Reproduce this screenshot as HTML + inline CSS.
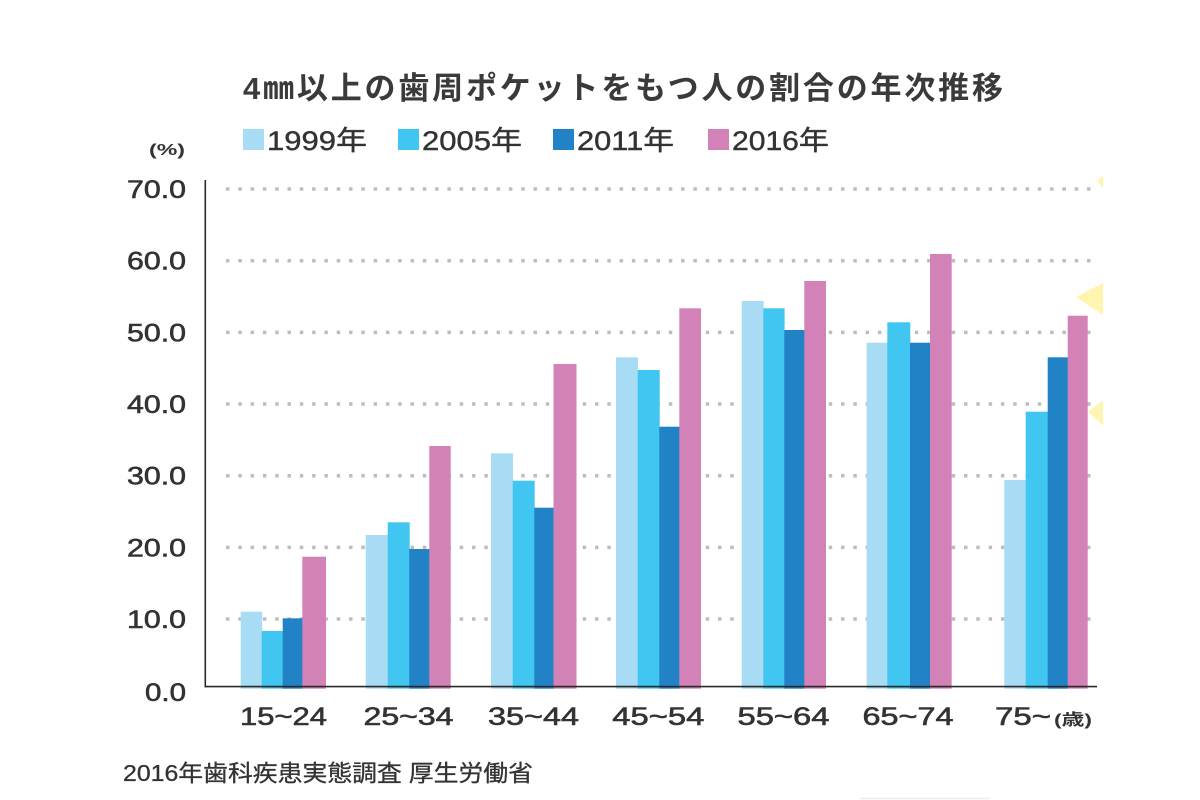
<!DOCTYPE html>
<html>
<head>
<meta charset="utf-8">
<style>
  html, body { margin: 0; padding: 0; background: #ffffff; }
  body { width: 1200px; height: 800px; overflow: hidden; }
  svg { display: block; }
  .lat { font-family: "Liberation Sans", "Noto Sans CJK JP", sans-serif; }
  .cjk { font-family: "Liberation Sans", "Noto Sans CJK JP", sans-serif; }
</style>
</head>
<body>
<svg width="1200" height="800" viewBox="0 0 1200 800" xmlns="http://www.w3.org/2000/svg">
  <rect x="0" y="0" width="1200" height="800" fill="#ffffff"/>

  <!-- yellow decorations -->
  <g fill="#fff4b0">
    <polygon points="1097,181 1103,175 1103,188"/>
    <polygon points="1076,297 1103,283 1103,315"/>
    <polygon points="1088,412 1103,400 1103,425"/>
  </g>

  <!-- title -->
  <text class="cjk" x="243" y="99" font-size="31" font-weight="bold" fill="#3a3a3a" textLength="760" lengthAdjust="spacing">4㎜以上の歯周ポケットをもつ人の割合の年次推移</text>

  <!-- legend -->
  <g class="lat" font-size="27" fill="#333" stroke="#333" stroke-width="0.4">
    <text x="267" y="150" textLength="100" lengthAdjust="spacingAndGlyphs">1999年</text>
    <text x="422" y="150" textLength="100" lengthAdjust="spacingAndGlyphs">2005年</text>
    <text x="577" y="150" textLength="97" lengthAdjust="spacingAndGlyphs">2011年</text>
    <text x="732" y="150" textLength="97" lengthAdjust="spacingAndGlyphs">2016年</text>
  </g>
  <rect x="243" y="129" width="21" height="21" fill="#a8dcf5"/>
  <rect x="398" y="129" width="21" height="21" fill="#41c6f1"/>
  <rect x="553" y="129" width="21" height="21" fill="#2282c6"/>
  <rect x="708" y="129" width="21" height="21" fill="#d282b6"/>

  <!-- (%) -->
  <text class="lat" x="149" y="155" font-size="16" font-weight="bold" fill="#333" textLength="36" lengthAdjust="spacingAndGlyphs">(%)</text>

  <!-- gridlines -->
  <g stroke="#bdbdbd" stroke-width="3.5" stroke-dasharray="3.5 8.8">
    <line x1="226" y1="189" x2="1094" y2="189"/>
    <line x1="226" y1="260.7" x2="1094" y2="260.7"/>
    <line x1="226" y1="332.4" x2="1094" y2="332.4"/>
    <line x1="226" y1="404" x2="1094" y2="404"/>
    <line x1="226" y1="475.7" x2="1094" y2="475.7"/>
    <line x1="226" y1="547.4" x2="1094" y2="547.4"/>
    <line x1="226" y1="619" x2="1094" y2="619"/>
  </g>

  <!-- y tick labels -->
  <g class="lat" font-size="25" fill="#333" stroke="#333" stroke-width="0.6" text-anchor="end">
    <text x="186" y="198" textLength="59" lengthAdjust="spacingAndGlyphs">70.0</text>
    <text x="186" y="269.5" textLength="59" lengthAdjust="spacingAndGlyphs">60.0</text>
    <text x="186" y="341.5" textLength="59" lengthAdjust="spacingAndGlyphs">50.0</text>
    <text x="186" y="413" textLength="59" lengthAdjust="spacingAndGlyphs">40.0</text>
    <text x="186" y="484.5" textLength="59" lengthAdjust="spacingAndGlyphs">30.0</text>
    <text x="186" y="556.5" textLength="59" lengthAdjust="spacingAndGlyphs">20.0</text>
    <text x="186" y="628" textLength="59" lengthAdjust="spacingAndGlyphs">10.0</text>
    <text x="186" y="701" textLength="41" lengthAdjust="spacingAndGlyphs">0.0</text>
  </g>

  <!-- bars -->
  <g>
    <!-- G1 -->
    <rect x="240.7" y="611.7" width="21.5" height="77" fill="#a8dcf5"/>
    <rect x="261.7" y="631" width="21.5" height="57.7" fill="#41c6f1"/>
    <rect x="282.7" y="618.3" width="20" height="70.4" fill="#2282c6"/>
    <rect x="302.3" y="556.7" width="23.7" height="132" fill="#d282b6"/>
    <!-- G2 -->
    <rect x="365.7" y="535" width="22.5" height="153.7" fill="#a8dcf5"/>
    <rect x="387.7" y="522.3" width="22" height="166.4" fill="#41c6f1"/>
    <rect x="409.3" y="549" width="20.3" height="139.7" fill="#2282c6"/>
    <rect x="429.3" y="446" width="21.4" height="242.7" fill="#d282b6"/>
    <!-- G3 -->
    <rect x="491" y="453.3" width="22" height="235.4" fill="#a8dcf5"/>
    <rect x="512.7" y="480.7" width="22" height="208" fill="#41c6f1"/>
    <rect x="534.3" y="507.7" width="19.5" height="181" fill="#2282c6"/>
    <rect x="553.5" y="364" width="23" height="324.7" fill="#d282b6"/>
    <!-- G4 -->
    <rect x="616" y="357.3" width="22" height="331.4" fill="#a8dcf5"/>
    <rect x="637.7" y="370" width="22" height="318.7" fill="#41c6f1"/>
    <rect x="659.3" y="426.7" width="20.3" height="262" fill="#2282c6"/>
    <rect x="679.3" y="308.3" width="21.7" height="380.4" fill="#d282b6"/>
    <!-- G5 -->
    <rect x="741.7" y="301" width="22" height="387.7" fill="#a8dcf5"/>
    <rect x="763.3" y="308.3" width="21.3" height="380.4" fill="#41c6f1"/>
    <rect x="784.3" y="330" width="20.3" height="358.7" fill="#2282c6"/>
    <rect x="804.3" y="281" width="21.7" height="407.7" fill="#d282b6"/>
    <!-- G6 -->
    <rect x="866.7" y="342.7" width="21" height="346" fill="#a8dcf5"/>
    <rect x="887.3" y="322.3" width="23" height="366.4" fill="#41c6f1"/>
    <rect x="910" y="342.7" width="20.3" height="346" fill="#2282c6"/>
    <rect x="930" y="254" width="21.7" height="434.7" fill="#d282b6"/>
    <!-- G7 -->
    <rect x="1004.3" y="480" width="21.7" height="208.7" fill="#a8dcf5"/>
    <rect x="1025.7" y="411.7" width="22.3" height="277" fill="#41c6f1"/>
    <rect x="1047.7" y="357.3" width="20.3" height="331.4" fill="#2282c6"/>
    <rect x="1067.7" y="315.7" width="20" height="373" fill="#d282b6"/>
  </g>

  <!-- axes -->
  <line x1="205.3" y1="180" x2="205.3" y2="687.3" stroke="#2a2a2a" stroke-width="1.6"/>
  <line x1="204.5" y1="686.6" x2="1097" y2="686.6" stroke="#2a2a2a" stroke-width="1.6"/>

  <!-- x labels -->
  <g class="lat" font-size="25" fill="#333" stroke="#333" stroke-width="0.6" text-anchor="middle">
    <text x="283.5" y="725" textLength="87" lengthAdjust="spacingAndGlyphs">15~24</text>
    <text x="408.5" y="725" textLength="90" lengthAdjust="spacingAndGlyphs">25~34</text>
    <text x="533.5" y="725" textLength="91" lengthAdjust="spacingAndGlyphs">35~44</text>
    <text x="658.3" y="725" textLength="92" lengthAdjust="spacingAndGlyphs">45~54</text>
    <text x="783.5" y="725" textLength="92" lengthAdjust="spacingAndGlyphs">55~64</text>
    <text x="908" y="725" textLength="91" lengthAdjust="spacingAndGlyphs">65~74</text>
  </g>
  <text class="lat" x="995" y="725" font-size="25" fill="#333" stroke="#333" stroke-width="0.6" textLength="56" lengthAdjust="spacingAndGlyphs">75~</text>
  <text class="cjk" x="1054" y="725" font-size="16" font-weight="bold" fill="#333" textLength="38" lengthAdjust="spacingAndGlyphs">(歳)</text>

  <!-- source -->
  <text class="cjk" x="123" y="781" font-size="23" fill="#333" stroke="#333" stroke-width="0.3" textLength="410" lengthAdjust="spacingAndGlyphs">2016年歯科疾患実態調査 厚生労働省</text>

  <!-- faint bottom line -->
  <line x1="860" y1="798.5" x2="990" y2="798.5" stroke="#ececec" stroke-width="1.5"/>
</svg>
</body>
</html>
